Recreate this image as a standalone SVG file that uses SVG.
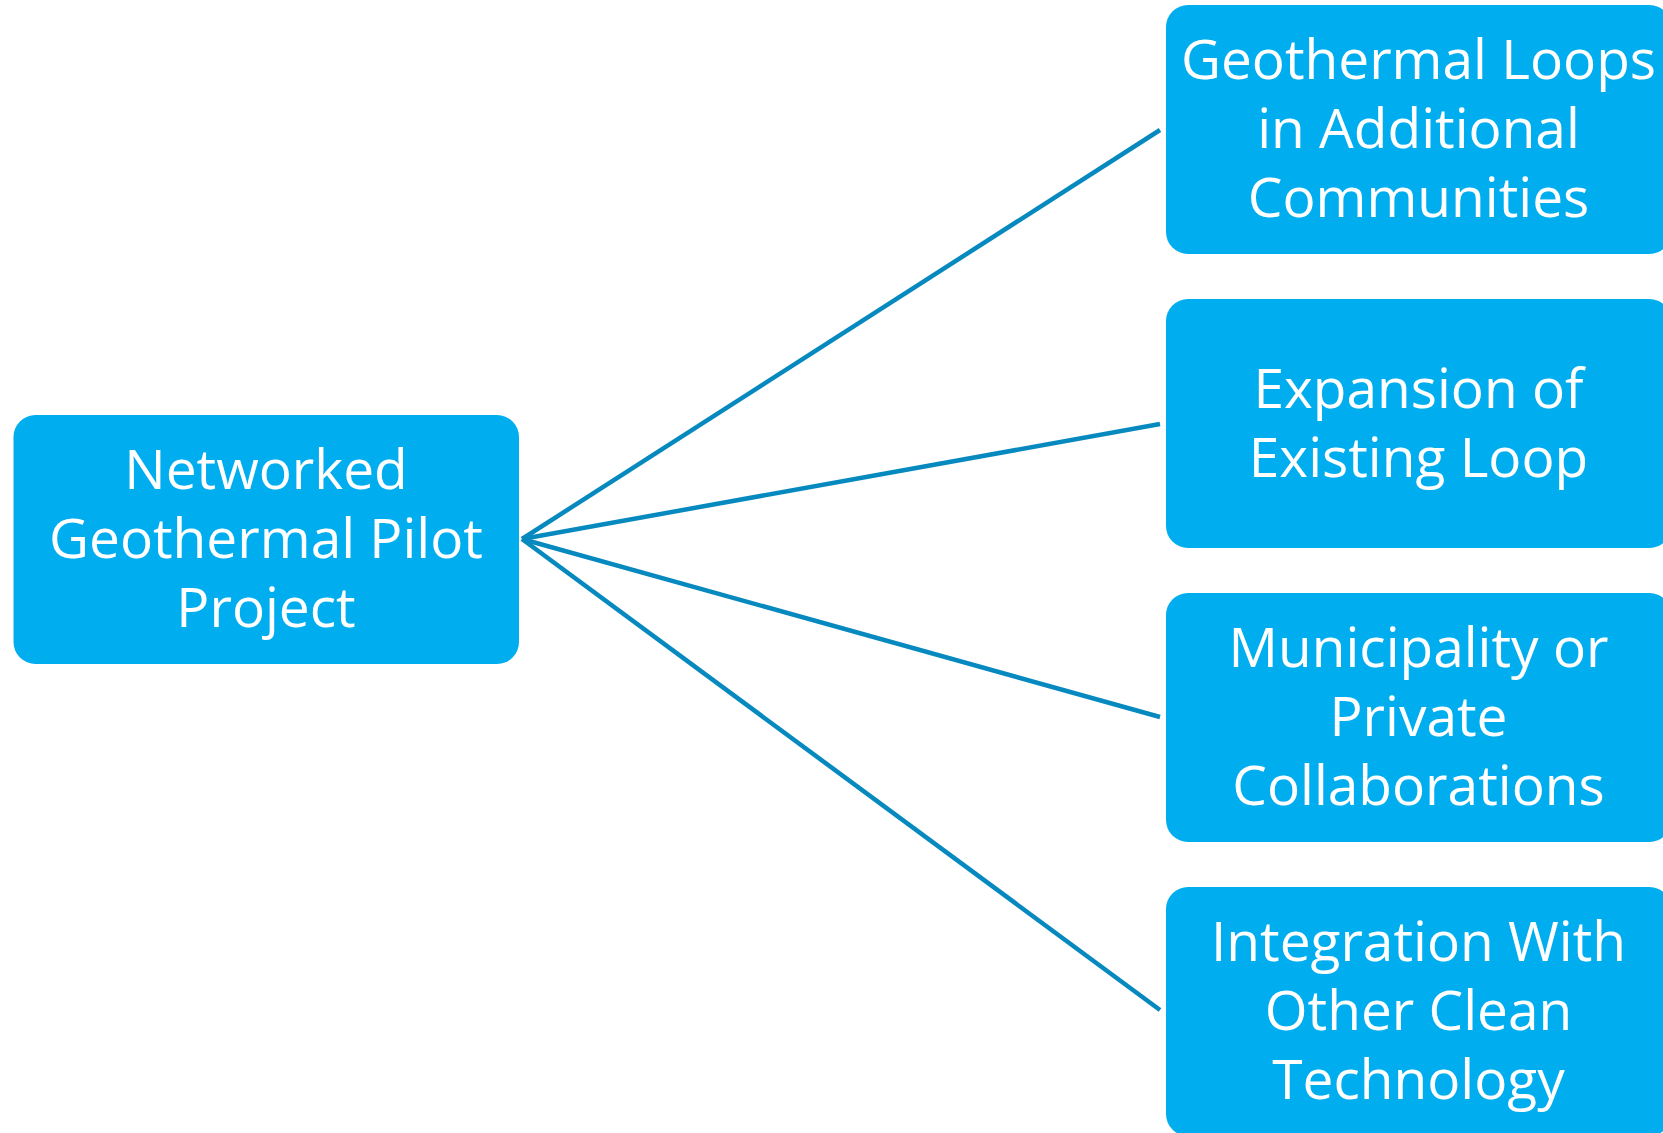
<svg xmlns="http://www.w3.org/2000/svg" width="1663" height="1133" viewBox="0 0 1663 1133">
  <style>
    .box { fill: #00AEEF; }
    .label { font-family: "Open Sans", "Noto Sans", "Liberation Sans", sans-serif; font-size: 55px; fill: #FFFFFF; text-anchor: middle; }
    .link { stroke: #0689BF; stroke-width: 4.5; fill: none; stroke-linecap: butt; }
  </style>
  <rect width="1663" height="1133" fill="#FFFFFF"/>

  <!-- connectors from the root node to each branch -->
  <g id="connectors">
    <line class="link" x1="522" y1="539" x2="1160" y2="130"/>
    <line class="link" x1="522" y1="539" x2="1160" y2="424"/>
    <line class="link" x1="522" y1="539" x2="1160" y2="717"/>
    <line class="link" x1="522" y1="539" x2="1160" y2="1010"/>
  </g>

  <g id="root">
    <rect class="box" x="13.5" y="415" width="505.5" height="249" rx="22"/>
    <text class="label" x="266" y="489">Networked</text>
    <text class="label" x="266" y="558">Geothermal Pilot</text>
    <text class="label" x="266" y="627">Project</text>
  </g>

  <g id="branch-loops">
    <rect class="box" x="1166" y="5" width="505.5" height="249" rx="22"/>
    <text class="label" x="1418.5" y="79">Geothermal Loops</text>
    <text class="label" x="1418.5" y="148">in Additional</text>
    <text class="label" x="1418.5" y="217">Communities</text>
  </g>

  <g id="branch-expansion">
    <rect class="box" x="1166" y="299" width="505.5" height="249" rx="22"/>
    <text class="label" x="1418.5" y="408">Expansion of</text>
    <text class="label" x="1418.5" y="477">Existing Loop</text>
  </g>

  <g id="branch-collab">
    <rect class="box" x="1166" y="593" width="505.5" height="249" rx="22"/>
    <text class="label" x="1418.5" y="667">Municipality or</text>
    <text class="label" x="1418.5" y="736">Private</text>
    <text class="label" x="1418.5" y="805">Collaborations</text>
  </g>

  <g id="branch-integration">
    <rect class="box" x="1166" y="887" width="505.5" height="249" rx="22"/>
    <text class="label" x="1418.5" y="961">Integration With</text>
    <text class="label" x="1418.5" y="1030">Other Clean</text>
    <text class="label" x="1418.5" y="1099">Technology</text>
  </g>
</svg>
